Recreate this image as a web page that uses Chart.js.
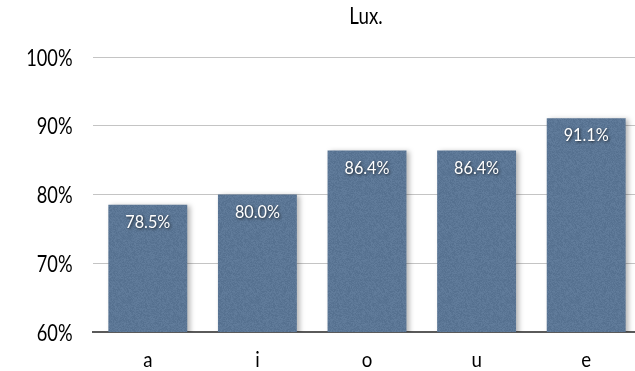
<!DOCTYPE html>
<html>
<head>
<meta charset="utf-8">
<script src="https://cdn.jsdelivr.net/npm/chart.js@4/dist/chart.umd.min.js"></script>
<style>
  html, body { margin: 0; padding: 0; background: #fff; overflow: hidden; }
  #wrap { position: relative; width: 641px; height: 371px; }
</style>
</head>
<body>
<div id="wrap"><canvas id="chart"></canvas></div>
<script>
// Vowel scores
const categories = ['a', 'i', 'o', 'u', 'e'];
const luxValues = [78.5, 80.0, 86.4, 86.4, 91.1];
const yTicks = [60, 70, 80, 90, 100];
const chartTitle = 'Lux.';

const FONT = "Lato, 'Open Sans', 'DejaVu Sans', sans-serif";

// Draw text with a slight horizontal squeeze (narrow humanist look)
function drawText(ctx, text, x, y, opts) {
  ctx.save();
  ctx.font = opts.size + 'px ' + FONT;
  ctx.fillStyle = opts.color || '#000';
  ctx.textBaseline = 'alphabetic';
  ctx.textAlign = opts.align || 'center';
  if (opts.shadow) {
    ctx.shadowColor = opts.shadow;
    ctx.shadowBlur = 3;
    ctx.shadowOffsetX = 1;
    ctx.shadowOffsetY = 1;
  }
  ctx.translate(x, y);
  ctx.scale(opts.sx || 1, 1);
  ctx.fillText(text, 0, 0);
  ctx.restore();
}

// Grainy slate-blue fill for the bars (deterministic hash noise)
function makeGrain() {
  const c = document.createElement('canvas');
  c.width = 64; c.height = 64;
  const g = c.getContext('2d');
  const img = g.createImageData(64, 64);
  for (let y = 0; y < 64; y++) {
    for (let x = 0; x < 64; x++) {
      let h = (x * 374761393 + y * 668265263) | 0;
      h = Math.imul(h ^ (h >>> 13), 1274126177);
      h = (h ^ (h >>> 16)) >>> 0;
      const n = ((h % 1000) / 1000 - 0.5) * 14;
      const i = (y * 64 + x) * 4;
      img.data[i] = 91 + n;
      img.data[i + 1] = 118 + n;
      img.data[i + 2] = 149 + n;
      img.data[i + 3] = 255;
    }
  }
  g.putImageData(img, 0, 0);
  return g.createPattern(c, 'repeat');
}

// Soft drop shadow behind the bars
const barShadow = {
  id: 'barShadow',
  beforeDatasetsDraw(chart) {
    const ctx = chart.ctx;
    ctx.save();
    ctx.shadowColor = 'rgba(0,0,0,0.28)';
    ctx.shadowBlur = 5;
    ctx.shadowOffsetX = 3;
    ctx.shadowOffsetY = 1;
  },
  afterDatasetsDraw(chart) {
    chart.ctx.restore();
  }
};

// Title, axis labels and in-bar value labels
const textLayer = {
  id: 'textLayer',
  afterDraw(chart) {
    const ctx = chart.ctx;
    const area = chart.chartArea;
    const xs = chart.scales.x;
    const ys = chart.scales.y;

    drawText(ctx, chartTitle, (area.left + area.right) / 2 - 1, 24, { size: 24, sx: 0.78 });

    yTicks.forEach(v => {
      drawText(ctx, v + '%', 72.5, ys.getPixelForValue(v) + 8.6, { size: 24, sx: 0.76, align: 'right' });
    });

    categories.forEach((c, i) => {
      drawText(ctx, c, xs.getPixelForValue(i), 367, { size: 22, sx: 0.85 });
    });

    const meta = chart.getDatasetMeta(0);
    const data = chart.data.datasets[0].data;
    meta.data.forEach((bar, i) => {
      drawText(ctx, data[i].toFixed(1) + '%', bar.x, bar.y + 23, {
        size: 18, sx: 0.9, color: '#fff', shadow: 'rgba(0,0,0,0.75)'
      });
    });
  }
};

new Chart(document.getElementById('chart'), {
  type: 'bar',
  data: {
    labels: categories,
    datasets: [{
      data: luxValues,
      backgroundColor: makeGrain(),
      borderWidth: 0,
      categoryPercentage: 0.72,
      barPercentage: 1.0
    }]
  },
  options: {
    responsive: true,
    maintainAspectRatio: false,
    animation: false,
    layout: { padding: { top: 57, right: 0, bottom: 0, left: 0 } },
    plugins: {
      legend: { display: false },
      tooltip: { enabled: false },
      title: { display: false }
    },
    scales: {
      x: {
        afterFit(scale) { scale.height = 39; },
        grid: { display: false, drawTicks: false },
        border: { color: '#5a5a5a', width: 2 },
        ticks: { display: false }
      },
      y: {
        min: yTicks[0],
        max: yTicks[yTicks.length - 1],
        afterBuildTicks(scale) {
          scale.ticks = yTicks.map(v => ({ value: v }));
        },
        afterFit(scale) { scale.width = 93; },
        grid: { color: '#c4c4c4', lineWidth: 1, drawTicks: false },
        border: { display: false },
        ticks: { display: false }
      }
    }
  },
  plugins: [barShadow, textLayer]
});
</script>
</body>
</html>
